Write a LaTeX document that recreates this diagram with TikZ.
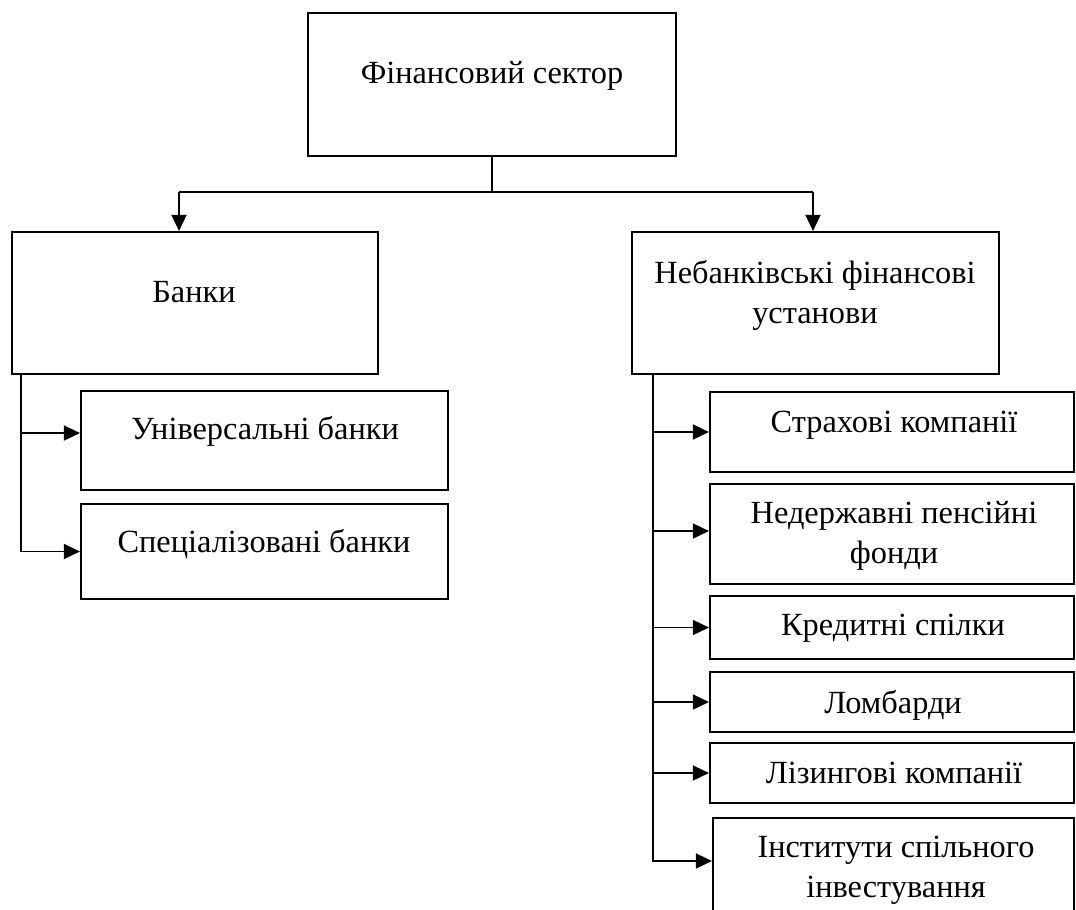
\documentclass[tikz,border=0pt]{standalone}
\usepackage{fontspec}
\setmainfont{Liberation Serif}
\usetikzlibrary{arrows.meta,fit}

\tikzset{
  box/.style={draw, line width=1.6pt, inner sep=0pt},
  lbl/.style={anchor=base, align=center, inner sep=0pt, font=\fontsize{23}{28}\selectfont},
  link/.style={line width=0.8pt},
  arr/.style={line width=0.8pt, -{Triangle[length=0.4cm,width=0.38cm]}}
}

\begin{document}
\begin{tikzpicture}[x=0.025cm, y=-0.025cm]
\useasboundingbox (0,0) rectangle (1076,909);
\clip (0,0) rectangle (1076,909);

% Top level
\node[box, fit={(308,13) (676,156)}] (fs) {};
\node[lbl] (fs-t) at (492,83) {Фінансовий сектор};

% Second level
\node[box, fit={(12,232) (378,374)}] (bank) {};
\node[lbl] (bank-t) at (194,302) {Банки};
\node[box, fit={(632,232) (999,374)}] (nonbank) {};
\node[lbl] (nonbank-t) at (815,323) {Небанківські фінансові\\установи};

% Banks
\node[box, fit={(81,391) (448,490)}] (ub) {};
\node[lbl] (ub-t) at (265,439) {Універсальні банки};
\node[box, fit={(81,504) (448,599)}] (sb) {};
\node[lbl] (sb-t) at (264,552) {Спеціалізовані банки};

% Non-bank institutions
\node[box, fit={(710,392) (1074,472)}] (ins) {};
\node[lbl] (ins-t) at (894,432) {Страхові компанії};
\node[box, fit={(710,484) (1074,584)}] (npf) {};
\node[lbl] (npf-t) at (894,563) {Недержавні пенсійні\\фонди};
\node[box, fit={(710,596) (1074,659)}] (cu) {};
\node[lbl] (cu-t) at (893,635) {Кредитні спілки};
\node[box, fit={(710,672) (1074,732)}] (pawn) {};
\node[lbl] (pawn-t) at (893,713) {Ломбарди};
\node[box, fit={(710,743) (1074,803)}] (lease) {};
\node[lbl] (lease-t) at (894,783) {Лізингові компанії};
\node[box, fit={(713,818) (1074,925)}] (cii) {};
\node[lbl] (cii-t) at (896,897) {Інститути спільного\\інвестування};

% Connectors
\coordinate (bl) at (179,192);
\coordinate (nl) at (813,192);
\draw[link] (fs.south) -- (fs.south |- bl);
\draw[link] (bl) -- (nl);
\draw[arr] (bl) -- (bank.north -| bl);
\draw[arr] (nl) -- (nonbank.north -| nl);

\coordinate (bt) at (21,374);
\draw[arr] (bt |- 0,433) -- (ub.west |- 0,433);
\draw[arr] (bt) |- (sb.west);

\coordinate (nt) at (653,374);
\draw[arr] (nt |- ins.west) -- (ins.west);
\draw[arr] (nt |- 0,531) -- (npf.west |- 0,531);
\draw[arr] (nt |- cu.west) -- (cu.west);
\draw[arr] (nt |- pawn.west) -- (pawn.west);
\draw[arr] (nt |- lease.west) -- (lease.west);
\draw[arr] (nt) |- (cii.west |- 0,861);
\end{tikzpicture}
\end{document}
